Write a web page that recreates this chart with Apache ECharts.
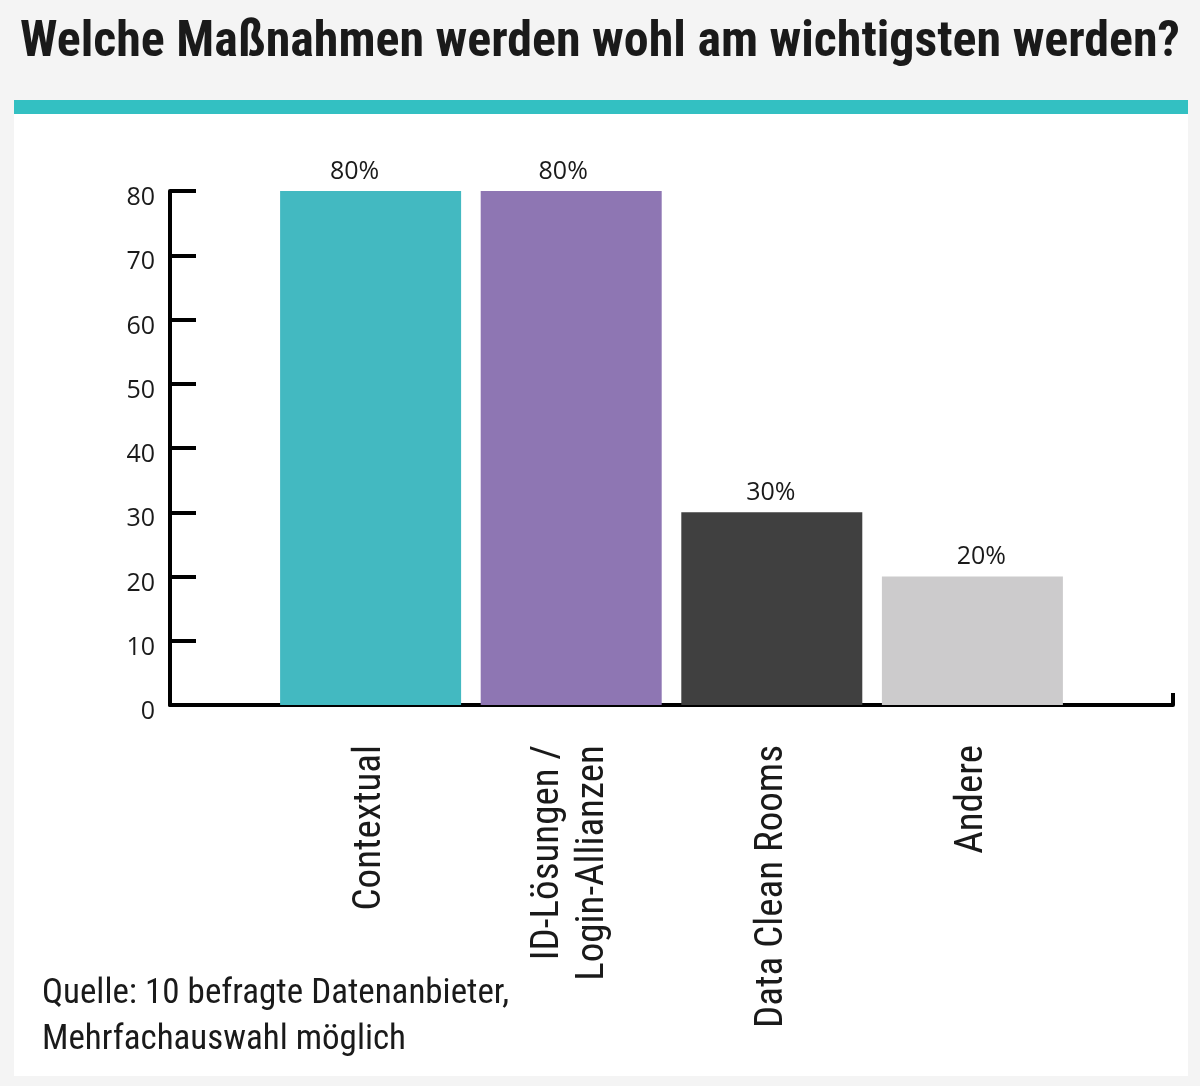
<!DOCTYPE html>
<html>
<head>
<meta charset="utf-8">
<script src="https://cdn.jsdelivr.net/npm/echarts@6/dist/echarts.min.js"></script>
<style>
  html, body { margin: 0; padding: 0; background: #f4f4f4; }
  #main { width: 1200px; height: 1086px; }
</style>
</head>
<body>
<div id="main"></div>
<script>
// Daten
const categories = ['', 'Contextual', 'ID-Lösungen /\nLogin-Allianzen', 'Data Clean Rooms', 'Andere', '']
const values = [null, 80, 80, 30, 20, null]
const barColors = ['#43b9c1', '#43b9c1', '#8e76b3', '#404040', '#cccbcc', '#cccbcc']
const labelShift = [0, -16, -8, -1, 9, 0]
const yTicks = [0, 10, 20, 30, 40, 50, 60, 70, 80]

const narrow = '"Roboto Condensed", "Liberation Sans Narrow", "DejaVu Sans Condensed", Roboto, sans-serif'

const chartDom = document.getElementById('main')
const myChart = echarts.init(chartDom)

const option = {
  backgroundColor: '#f4f4f4',
  animation: false,
  title: {
    text: 'Welche Maßnahmen werden wohl am wichtigsten werden?',
    left: 15,
    top: 13,
    textStyle: { fontFamily: narrow, fontSize: 50, fontWeight: 'bold', color: '#1a1a1a' }
  },
  graphic: [
    { type: 'rect', z: -10, shape: { x: 14, y: 113, width: 1174, height: 963 }, style: { fill: '#ffffff' } },
    { type: 'rect', z: -9, shape: { x: 14, y: 100, width: 1174, height: 14 }, style: { fill: '#33c0c2' } },
    {
      type: 'text', left: 42, top: 971,
      style: {
        text: 'Quelle: 10 befragte Datenanbieter,\nMehrfachauswahl möglich',
        font: '35px ' + narrow, fill: '#1a1a1a', lineHeight: 46
      }
    }
  ],
  grid: { left: 170, right: 27, top: 191, bottom: 381 },
  xAxis: {
    type: 'category',
    boundaryGap: false,
    data: categories,
    axisLine: { lineStyle: { color: '#000', width: 4 } },
    axisTick: {
      show: true, inside: true, length: 12,
      interval: (i) => i === categories.length - 1,
      lineStyle: { color: '#000', width: 4 }
    },
    axisLabel: {
      rotate: 90, margin: 40, interval: 0,
      fontFamily: narrow, fontSize: 39, color: '#1a1a1a', lineHeight: 45
    }
  },
  yAxis: {
    type: 'value',
    min: yTicks[0],
    max: yTicks[yTicks.length - 1],
    interval: 10,
    splitLine: { show: false },
    axisLine: { show: true, lineStyle: { color: '#000', width: 4 } },
    axisTick: { show: true, inside: true, length: 26, lineStyle: { color: '#000', width: 4 } },
    axisLabel: {
      margin: 15, fontFamily: '"Open Sans", sans-serif', fontSize: 25, color: '#1a1a1a',
      verticalAlign: 'top', lineHeight: 14
    }
  },
  series: [
    {
      type: 'bar',
      barWidth: 181,
      data: values.map((v, i) => ({
        value: v,
        itemStyle: { color: barColors[i] },
        label: { offset: [labelShift[i], 0] }
      })),
      label: {
        show: true, position: 'top', distance: 7,
        formatter: '{c}%',
        fontFamily: '"Open Sans", sans-serif', fontSize: 25, color: '#1a1a1a'
      }
    }
  ]
}

option && myChart.setOption(option)
</script>
</body>
</html>
